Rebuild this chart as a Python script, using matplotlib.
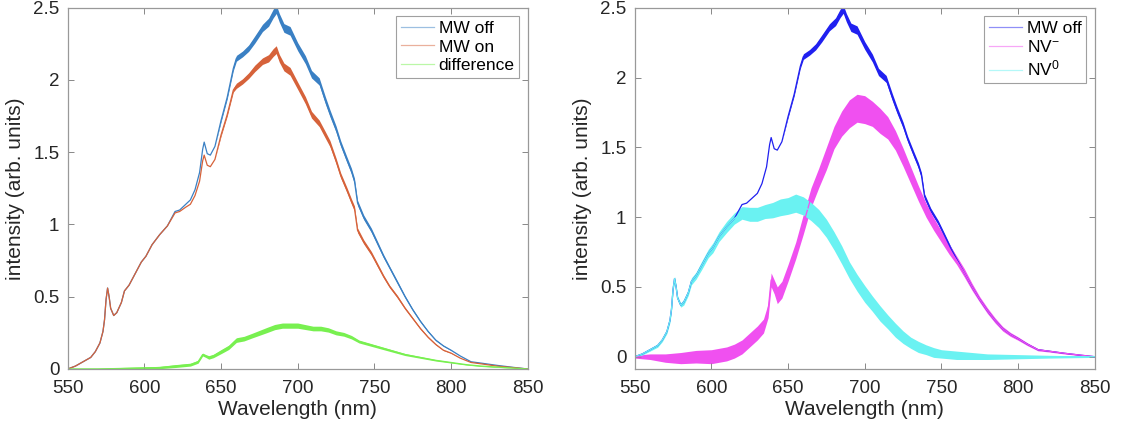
import matplotlib
matplotlib.use("Agg")
import matplotlib.pyplot as plt
import numpy as np
from matplotlib.ticker import FuncFormatter

plt.rcParams['font.family'] = ['Liberation Sans', 'DejaVu Sans']
plt.rcParams['mathtext.default'] = 'regular'

# values (wavelength in nm, intensity in arb. units)
wl_off = [550, 555, 560, 565, 568, 571, 573, 574, 575, 576, 577, 578, 580, 582, 585, 587,
          590, 594, 598, 601, 605, 610, 615, 620, 623, 627, 630, 633, 636, 638, 639, 641,
          643, 646, 650, 654, 658, 660, 664, 668, 672, 677, 681, 684, 686, 688, 691, 695,
          700, 705, 709, 714, 718, 721, 725, 728, 732, 735, 737, 739, 743, 748, 752, 756,
          760, 765, 770, 775, 780, 785, 790, 795, 800, 806, 813, 820, 830, 840, 850]
mw_off = [0.0, 0.02, 0.05, 0.08, 0.12, 0.18, 0.26, 0.34, 0.48, 0.56, 0.5, 0.42, 0.37, 0.39, 0.46, 0.54,
          0.58, 0.66, 0.74, 0.78, 0.86, 0.93, 0.99, 1.09, 1.1, 1.14, 1.17, 1.24, 1.36, 1.52, 1.57, 1.49,
          1.48, 1.54, 1.72, 1.88, 2.08, 2.15, 2.18, 2.22, 2.28, 2.36, 2.4, 2.46, 2.49, 2.43, 2.36, 2.34,
          2.23, 2.14, 2.04, 1.99, 1.86, 1.77, 1.66, 1.56, 1.45, 1.37, 1.3, 1.15, 1.05, 0.96, 0.87, 0.78,
          0.7, 0.6, 0.5, 0.41, 0.33, 0.26, 0.2, 0.16, 0.13, 0.09, 0.05, 0.04, 0.025, 0.012, 0.0]
mw_on = [0.0, 0.02, 0.05, 0.08, 0.12, 0.18, 0.26, 0.34, 0.48, 0.56, 0.5, 0.42, 0.37, 0.39, 0.46, 0.54,
         0.58, 0.66, 0.74, 0.78, 0.86, 0.93, 0.99, 1.08, 1.09, 1.12, 1.14, 1.2, 1.3, 1.44, 1.48, 1.41,
         1.4, 1.45, 1.62, 1.76, 1.93, 1.96, 1.99, 2.03, 2.08, 2.13, 2.15, 2.19, 2.21, 2.15, 2.09, 2.06,
         1.96, 1.86, 1.76, 1.7, 1.62, 1.56, 1.44, 1.34, 1.24, 1.16, 1.11, 0.96, 0.88, 0.8, 0.72, 0.64,
         0.57, 0.5, 0.42, 0.35, 0.28, 0.22, 0.17, 0.13, 0.11, 0.075, 0.045, 0.035, 0.02, 0.01, 0.0]
# half width of the noise band seen around the MW off / MW on traces
off_noise = [0.0] * 34 + [0.01, 0.012, 0.015, 0.02, 0.02, 0.022, 0.025, 0.025, 0.028, 0.03, 0.03, 0.03,
             0.03, 0.03, 0.028, 0.028, 0.026, 0.025, 0.025, 0.024, 0.022, 0.02, 0.02, 0.02, 0.02, 0.018,
             0.016, 0.015, 0.014, 0.012, 0.01, 0.01, 0.008, 0.007, 0.006, 0.005, 0.004, 0.003, 0.002,
             0.0, 0.0, 0.0, 0.0, 0.0, 0.0]

wl_diff = [550, 570, 590, 610, 620, 630, 635, 638, 640, 642, 645, 650, 655, 660, 665, 670, 675,
           680, 685, 690, 695, 700, 705, 710, 715, 720, 725, 730, 735, 740, 750, 760, 770, 780,
           790, 800, 810, 820, 835, 850]
diff = [0.0, 0.0, 0.005, 0.01, 0.02, 0.03, 0.05, 0.1, 0.09, 0.08, 0.09, 0.12, 0.15, 0.2, 0.21, 0.23, 0.25,
        0.27, 0.29, 0.3, 0.3, 0.3, 0.29, 0.28, 0.28, 0.27, 0.25, 0.24, 0.22, 0.19, 0.16, 0.13, 0.1, 0.08,
        0.06, 0.045, 0.03, 0.02, 0.01, 0.0]
diff_noise = [0.005, 0.006, 0.007, 0.008, 0.01, 0.01, 0.01, 0.01, 0.01, 0.012, 0.012, 0.014, 0.015, 0.016,
              0.016, 0.016, 0.017, 0.018, 0.018, 0.018, 0.018, 0.018, 0.017, 0.016, 0.016, 0.015, 0.014,
              0.013, 0.012, 0.01, 0.009, 0.008, 0.007, 0.006, 0.005, 0.004, 0.003, 0.003, 0.002, 0.0]

wl_nv = [550, 560, 570, 580, 590, 600, 605, 610, 615, 620, 625, 630, 634, 637, 639, 641, 643, 646,
         650, 655, 660, 665, 670, 675, 680, 685, 690, 695, 700, 705, 710, 715, 720, 725, 730, 735,
         740, 745, 750, 755, 760, 765, 770, 775, 780, 785, 790, 795, 800, 806, 813, 820, 830, 840, 850]
nv_minus = [0.0, 0.0, -0.01, -0.01, 0.0, 0.0, 0.01, 0.02, 0.04, 0.07, 0.12, 0.17, 0.22, 0.33, 0.55, 0.5,
            0.44, 0.48, 0.6, 0.76, 0.95, 1.14, 1.28, 1.42, 1.57, 1.67, 1.74, 1.78, 1.77, 1.74, 1.69, 1.64, 1.55, 1.43,
            1.3, 1.17, 1.05, 0.95, 0.86, 0.77, 0.69, 0.6, 0.5, 0.41, 0.33, 0.26, 0.2, 0.16, 0.13, 0.09,
            0.05, 0.04, 0.025, 0.012, 0.0]
nv_minus_noise = [0.01, 0.02, 0.03, 0.04, 0.045, 0.05, 0.05, 0.05, 0.05, 0.05, 0.05, 0.05, 0.05, 0.05, 0.05,
                  0.05, 0.06, 0.06, 0.06, 0.06, 0.07, 0.07, 0.07, 0.08, 0.08, 0.09, 0.1, 0.1, 0.1, 0.09, 0.09,
                  0.08, 0.07, 0.065, 0.06, 0.055, 0.05, 0.045, 0.04, 0.035, 0.03, 0.03, 0.025, 0.02, 0.02,
                  0.018, 0.016, 0.014, 0.012, 0.01, 0.008, 0.006, 0.005, 0.004, 0.003]
wl_nv0 = [550, 555, 560, 565, 568, 571, 573, 574, 575, 576, 577, 578, 580, 582, 585, 587, 590, 594,
          598, 601, 605, 610, 615, 620, 625, 630, 635, 640, 645, 650, 655, 660, 665, 670, 675, 680,
          685, 690, 695, 700, 705, 710, 715, 720, 725, 730, 735, 740, 745, 750, 760, 770, 780, 800,
          820, 850]
nv_zero = [0.0, 0.02, 0.05, 0.08, 0.12, 0.18, 0.26, 0.34, 0.48, 0.56, 0.5, 0.42, 0.37, 0.39, 0.46, 0.54,
           0.58, 0.66, 0.74, 0.78, 0.86, 0.93, 0.99, 1.03, 1.02, 1.02, 1.04, 1.05, 1.07, 1.08, 1.1, 1.08,
           1.04, 0.99, 0.92, 0.83, 0.73, 0.62, 0.53, 0.45, 0.38, 0.31, 0.25, 0.19, 0.14, 0.1, 0.07, 0.05,
           0.03, 0.02, 0.01, 0.005, 0.0, 0.0, 0.0, 0.0]
nv_zero_noise = [0.005, 0.008, 0.01, 0.012, 0.012, 0.014, 0.015, 0.015, 0.015, 0.015, 0.015, 0.015, 0.015,
                 0.02, 0.02, 0.025, 0.025, 0.03, 0.03, 0.035, 0.035, 0.04, 0.04, 0.045, 0.05, 0.05, 0.05, 0.055,
                 0.06, 0.06, 0.065, 0.065, 0.065, 0.065, 0.065, 0.065, 0.065, 0.06, 0.06, 0.06, 0.055, 0.055,
                 0.05, 0.05, 0.045, 0.04, 0.04, 0.035, 0.035, 0.03, 0.03, 0.025, 0.02, 0.015, 0.01, 0.005]

fig, (ax1, ax2) = plt.subplots(1, 2, figsize=(11.23, 4.3), dpi=100)
fig.subplots_adjust(left=0.0603, right=0.9748, bottom=0.1419, top=0.982, wspace=0.2325)


def trace(ax, x, y, noise, color, label, lw=0.9):
    y = np.array(y)
    n = np.array(noise)
    ax.fill_between(x, y - n, y + n, color=color, lw=0)
    ax.plot(x, y, color=color, lw=lw, label=label)


trace(ax1, wl_off, mw_off, off_noise, '#3a80c4', 'MW off')
trace(ax1, wl_off, mw_on, [v * 0.9 for v in off_noise], '#d6623a', 'MW on')
trace(ax1, wl_diff, diff, diff_noise, '#78f050', 'difference')
ax1.set_ylim(0, 2.5)

trace(ax2, wl_off, mw_off, off_noise, '#2020f0', 'MW off')
trace(ax2, wl_nv, nv_minus, nv_minus_noise, '#f050f0', 'NV$^{-}$')
trace(ax2, wl_nv0, nv_zero, nv_zero_noise, '#6af2f2', 'NV$^{0}$')
ax2.set_ylim(-0.088, 2.5)

fmt = FuncFormatter(lambda v, p: '%g' % v)
for ax in (ax1, ax2):
    ax.set_xlim(550, 850)
    ax.set_xticks([550, 600, 650, 700, 750, 800, 850])
    ax.set_yticks([0, 0.5, 1, 1.5, 2, 2.5])
    ax.yaxis.set_major_formatter(fmt)
    ax.tick_params(direction='in', top=True, right=True, labelsize=13.5, labelcolor='#262626',
                   length=4, width=0.7, color='#888888')
    ax.tick_params(axis='x', pad=8)
    ax.tick_params(axis='y', pad=6)
    for s in ax.spines.values():
        s.set_color('#999999')
        s.set_linewidth(0.9)
    ax.set_xlabel('Wavelength (nm)', fontsize=15, color='#262626', labelpad=2)
    ax.set_ylabel('intensity (arb. units)', fontsize=15, color='#262626', labelpad=6)
    leg = ax.legend(loc='upper right', fontsize=12.5, fancybox=False, handlelength=1.9,
                    handletextpad=0.3, borderpad=0.25, labelspacing=0.2, borderaxespad=0.5)
    leg.get_frame().set_edgecolor('#888888')
    leg.get_frame().set_linewidth(0.8)
    for h in leg.get_lines():
        h.set_alpha(0.5)

fig.savefig('out.png', dpi=100)
